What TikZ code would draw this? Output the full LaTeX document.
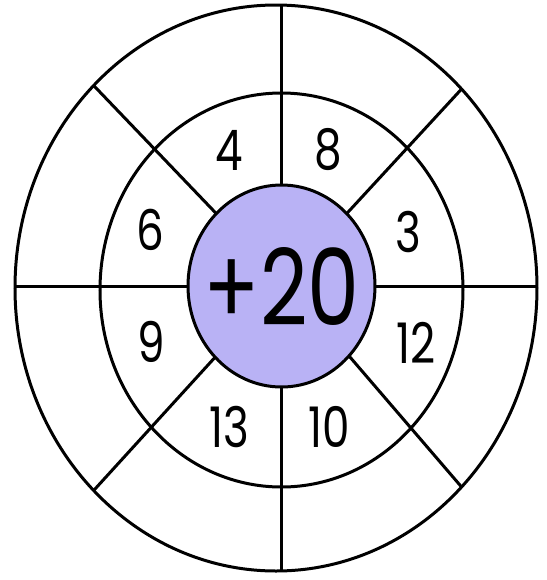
\documentclass[tikz,border=0pt]{standalone}
\usepackage{fontspec}
\newfontfamily\wheelfont[FakeStretch=0.78]{Poppins}
\usetikzlibrary{shapes.geometric}
\definecolor{hubfill}{RGB}{185,178,245}

\begin{document}
\begin{tikzpicture}[x=0.5pt,y=-0.5pt,line width=1.5pt,
  ring/.style={draw,ellipse,inner sep=0pt,outer sep=0pt},
  numlabel/.style={font=\wheelfont\fontsize{28}{30}\selectfont,inner sep=0pt}]
\useasboundingbox (0,0) rectangle (547,580);
\node[ring,minimum width=261pt,minimum height=283pt] (rim) at (276,288) {};
\node[ring,minimum width=181.5pt,minimum height=197pt] (band) at (281.5,290) {};
\node[ring,fill=hubfill,minimum width=93.5pt,minimum height=101pt] (hub) at (281.5,286) {};
\draw (hub.north) -- (hub.north |- rim.north);
\draw (hub.south) -- (hub.south |- rim.south);
\draw (hub.west) -- (hub.west -| rim.west);
\draw (hub.east) -- (hub.east -| rim.east);
\foreach \h/\r in {48/47,132/132,227/228,314/313}
  \draw (hub.\h) -- (rim.\r);
\node[font=\wheelfont\fontsize{53}{56}\selectfont,inner sep=0pt] (total) at (hub.center) {+20};
\foreach \x/\y/\txt in {229/150/4,328/150/8,150/230/6,408/232/3,151/342/9,416/343/12,229/427/13,329/427/10}
  \node[numlabel] (n\txt) at (\x,\y) {\txt};
\end{tikzpicture}
\end{document}
